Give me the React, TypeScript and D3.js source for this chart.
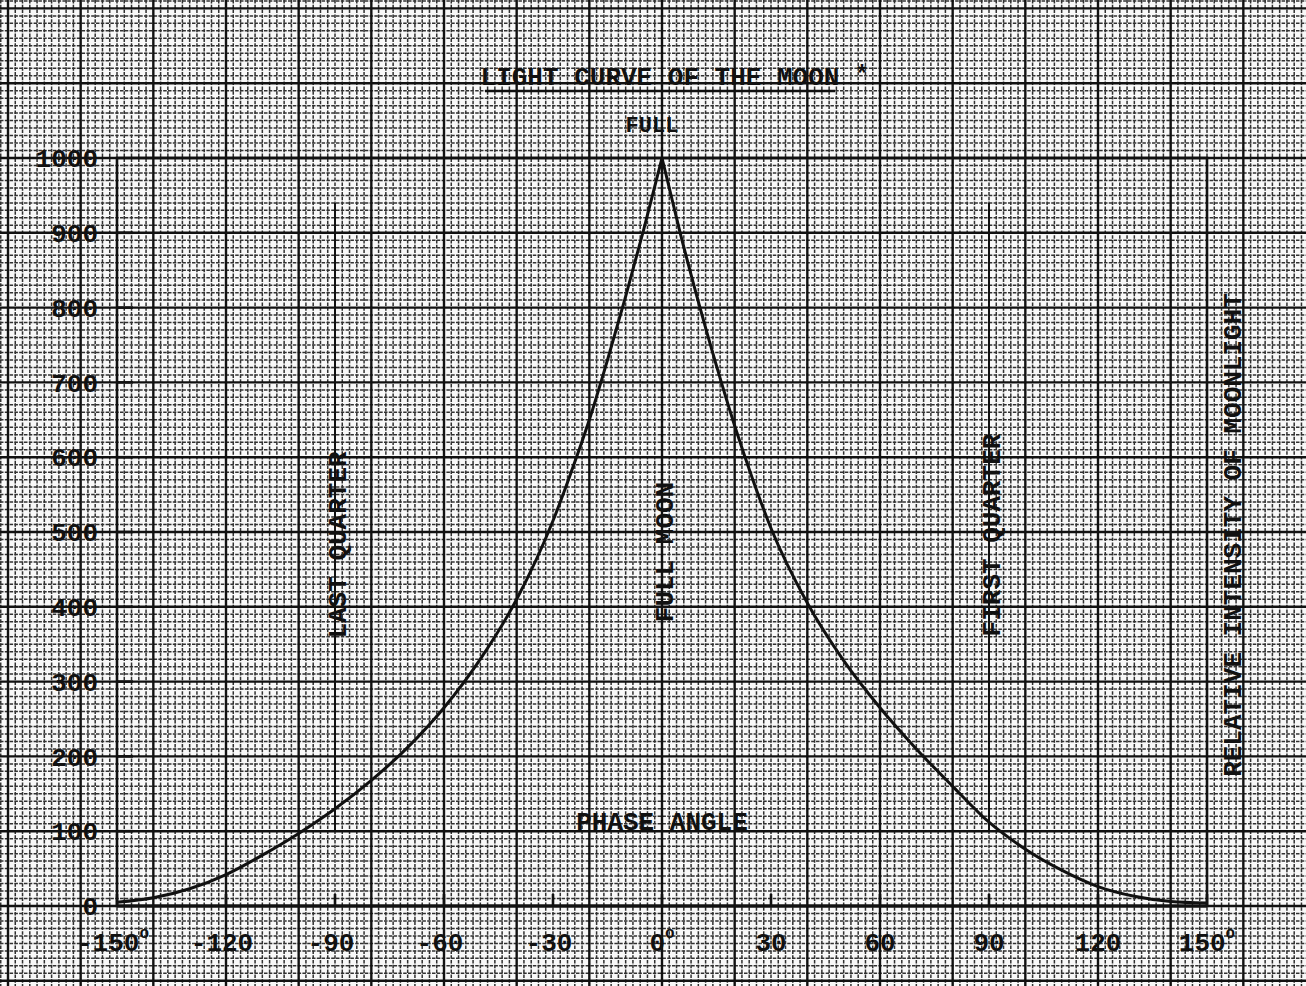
import React, { useEffect } from 'react';
import * as d3 from 'd3';

// waning branch (negative phase angle) and waxing branch
const phaseWaning = [-150, -140, -130, -120, -110, -100, -90, -80, -70, -60, -50, -40, -30, -25, -20, -15, -10, -5, 0];
const lightWaning = [5, 11, 23, 42, 68, 97, 130, 168, 212, 265, 330, 410, 515, 580, 650, 730, 815, 905, 1000];
const phaseWaxing = [0, 5, 10, 15, 20, 25, 30, 40, 50, 60, 70, 80, 90, 100, 110, 120, 130, 140, 150];
const lightWaxing = [1000, 900, 808, 722, 642, 570, 505, 405, 328, 265, 210, 160, 112, 76, 48, 26, 13, 6, 4];

const yTicks = [0, 100, 200, 300, 400, 500, 600, 700, 800, 900, 1000];
const xTicks = [-150, -120, -90, -60, -30, 0, 30, 60, 90, 120, 150];
const degreeTicks = [-150, 0, 150];

const phaseMarks = [
  { angle: -90, label: 'LAST QUARTER', at: 545 },
  { angle: 0, label: 'FULL MOON', at: 552 },
  { angle: 90, label: 'FIRST QUARTER', at: 535 },
];

const W = 1306;
const H = 986;
const FONT = '"Liberation Mono", "DejaVu Sans Mono", monospace';
const INK = '#111';

const App: React.FC = () => {
  useEffect(() => {
    document.body.style.margin = '0';
  }, []);

  const x = d3.scaleLinear().domain([-150, 150]).range([117, 1207]);
  const y = d3.scaleLinear().domain([0, 1000]).range([906, 158]);

  // graph paper covers the whole sheet
  const a0 = Math.floor(x.invert(0) / 2) * 2;
  const a1 = Math.ceil(x.invert(W) / 2) * 2;
  const v0 = Math.floor(y.invert(H) / 10) * 10;
  const v1 = Math.ceil(y.invert(0) / 10) * 10;
  const vGrid = d3.range(a0, a1 + 1, 2);
  const hGrid = d3.range(v0, v1 + 1, 10);

  const curve = d3
    .line<[number, number]>()
    .x((d) => x(d[0]))
    .y((d) => y(d[1]))
    .curve(d3.curveMonotoneX);
  const waning = curve(phaseWaning.map((p, i) => [p, lightWaning[i]] as [number, number]));
  const waxing = curve(phaseWaxing.map((p, i) => [p, lightWaxing[i]] as [number, number]));

  return (
    <svg width={W} height={H} style={{ display: 'block', background: '#f8f8f8' }}>
      {/* fine grid */}
      <g stroke="#000" strokeWidth={1.5} strokeDasharray="3.5 1.3" opacity={0.8}>
        {vGrid.filter((a) => Math.abs(a % 20) !== 0).map((a) => (
          <line key={'v' + a} x1={x(a)} x2={x(a)} y1={0} y2={H} />
        ))}
        {hGrid.filter((v) => Math.abs(v % 100) !== 0).map((v) => (
          <line key={'h' + v} x1={0} x2={W} y1={y(v)} y2={y(v)} />
        ))}
      </g>
      {/* heavy grid */}
      <g stroke="#111" strokeWidth={2.4}>
        {vGrid.filter((a) => Math.abs(a % 20) === 0).map((a) => (
          <line key={'V' + a} x1={x(a)} x2={x(a)} y1={0} y2={H} />
        ))}
        {hGrid.filter((v) => Math.abs(v % 100) === 0).map((v) => (
          <line key={'H' + v} x1={0} x2={W} y1={y(v)} y2={y(v)} />
        ))}
      </g>

      {/* frame */}
      <g stroke={INK} strokeWidth={2.6} fill="none">
        <rect x={x(-150)} y={y(1000)} width={x(150) - x(-150)} height={y(0) - y(1000)} />
        <line x1={x(-150)} x2={x(150)} y1={y(0)} y2={y(0)} strokeWidth={3.2} />
        {yTicks.slice(1, -1).map((v) => (
          <line key={'yt' + v} x1={x(-150)} x2={x(-150) + 16} y1={y(v)} y2={y(v)} />
        ))}
        {xTicks.map((a) => (
          <line key={'xt' + a} x1={x(a)} x2={x(a)} y1={y(0)} y2={y(0) - 12} />
        ))}
        {phaseMarks.map((m) => (
          <line key={'pm' + m.angle} x1={x(m.angle)} x2={x(m.angle)} y1={y(940)} y2={y(100)} strokeWidth={2} />
        ))}
      </g>

      {/* light curve */}
      <g stroke={INK} strokeWidth={3} fill="none">
        <path d={waning ?? ''} />
        <path d={waxing ?? ''} />
      </g>

      <g fontFamily={FONT} fontWeight="bold" fill={INK}>
        <text x={660} y={85} fontSize={26} textAnchor="middle">
          LIGHT CURVE OF THE MOON
        </text>
        <line x1={485} x2={835} y1={91} y2={91} stroke={INK} strokeWidth={2.5} />
        <text x={862} y={82} fontSize={24} textAnchor="middle">*</text>
        <text x={x(0) - 10} y={132} fontSize={22} textAnchor="middle">FULL</text>

        {yTicks.map((v) => (
          <text key={'yl' + v} x={98} y={y(v)} dy="0.35em" fontSize={26} textAnchor="end">
            {v}
          </text>
        ))}

        {xTicks.map((a) => (
          <text key={'xl' + a} x={x(a) + (a < 0 ? -4 : 0)} y={951} fontSize={26} textAnchor="middle">
            {a}
            {degreeTicks.includes(a) && (
              <tspan fontSize={16} dy={-13}>o</tspan>
            )}
          </text>
        ))}

        {phaseMarks.map((m) => (
          <text
            key={'pl' + m.angle}
            transform={`translate(${x(m.angle) + 2},${m.at}) rotate(-90)`}
            fontSize={26}
            textAnchor="middle"
            dy="0.35em"
          >
            {m.label}
          </text>
        ))}

        <text x={x(0)} y={830} fontSize={26} textAnchor="middle">PHASE ANGLE</text>

        <text
          transform={`translate(1232,${y(496)}) rotate(-90)`}
          fontSize={26}
          textAnchor="middle"
          dy="0.35em"
        >
          RELATIVE INTENSITY OF MOONLIGHT
        </text>
      </g>
    </svg>
  );
};

export default App;
